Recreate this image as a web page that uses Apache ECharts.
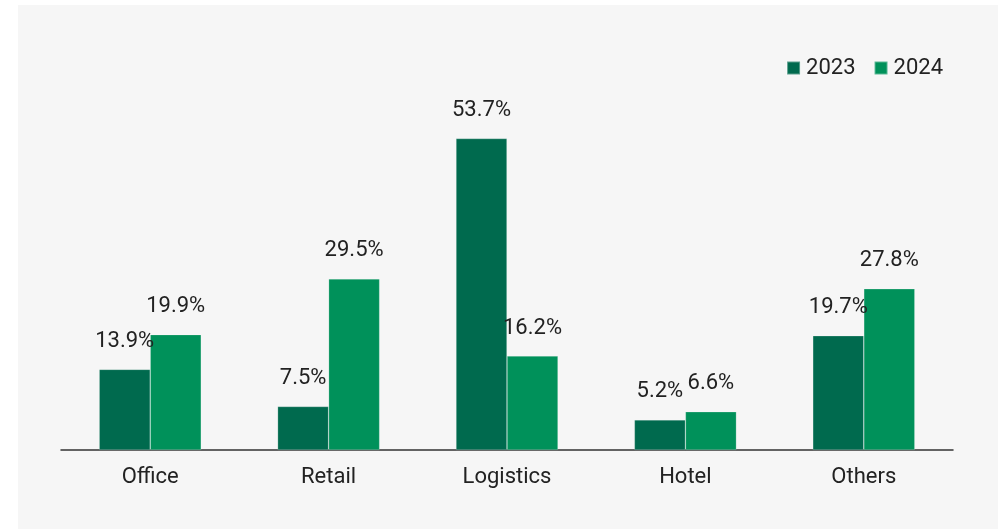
<!DOCTYPE html>
<html>
<head>
<meta charset="utf-8">
<script src="https://cdn.jsdelivr.net/npm/echarts@6/dist/echarts.min.js"></script>
<style>html,body{margin:0;padding:0;background:#fff}#c{width:998px;height:529px}</style>
</head>
<body>
<div id="c"></div>
<script>
const categories = ['Office', 'Retail', 'Logistics', 'Hotel', 'Others'];
const series2023 = [13.9, 7.5, 53.7, 5.2, 19.7];
const series2024 = [19.9, 29.5, 16.2, 6.6, 27.8];
const seriesNames = ['2023', '2024'];

const FONT = 'Roboto';
const chart = echarts.init(document.getElementById('c'));
const labelCfg = {
  show: true, position: 'top', distance: 17,
  fontFamily: FONT, fontSize: 22, fontWeight: 'normal', color: '#222',
  formatter: p => p.value.toFixed(1) + '%'
};
chart.setOption({
  backgroundColor: '#ffffff',
  animation: false,
  graphic: [{
    type: 'rect', left: 18, top: 5, z: -10,
    shape: { width: 980, height: 524 },
    style: { fill: '#f6f6f6' }
  }],
  legend: {
    right: 50, top: 52,
    itemWidth: 13, itemHeight: 13, itemGap: 18,
    icon: 'rect',
    textStyle: { fontFamily: FONT, fontSize: 22, color: '#222', padding: [0, 0, 0, 1] },
    data: seriesNames
  },
  grid: { left: 61, right: 45, bottom: 79, top: 102, containLabel: false },
  xAxis: {
    type: 'category', data: categories,
    axisLine: { lineStyle: { color: '#333', width: 1.5 } },
    axisTick: { show: false },
    axisLabel: { fontFamily: FONT, fontSize: 22, color: '#222', margin: 16 }
  },
  yAxis: {
    type: 'value', min: 0, max: 60, show: false,
    splitLine: { show: false }
  },
  series: [
    { name: seriesNames[0], type: 'bar', data: series2023, barWidth: '28.6%', barGap: '0%',
      itemStyle: { color: '#006a4e', borderColor: 'rgba(255,255,255,0.35)', borderWidth: 0.6 }, label: labelCfg },
    { name: seriesNames[1], type: 'bar', data: series2024, barWidth: '28.6%', barGap: '0%',
      itemStyle: { color: '#00915a', borderColor: 'rgba(255,255,255,0.35)', borderWidth: 0.6 }, label: labelCfg }
  ]
});
</script>
</body>
</html>
